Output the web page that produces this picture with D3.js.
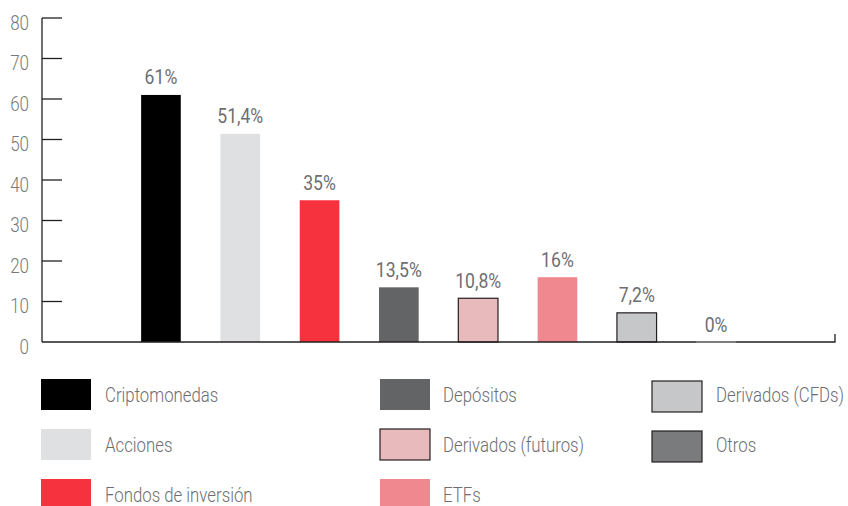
<!DOCTYPE html>
<html>
<head>
<meta charset="utf-8">
<script src="https://cdn.jsdelivr.net/npm/d3@7"></script>
<style>
  html, body { margin: 0; padding: 0; background: #fff; }
  svg text { font-family: "Roboto", "Liberation Sans", sans-serif; fill: #6d6e71; }
  svg text.light { font-weight: 300; }
</style>
</head>
<body>
<svg id="chart" width="848" height="506"></svg>
<script>
// Share of investors by product type (%)
const categories = ["Criptomonedas", "Acciones", "Fondos de inversión", "Depósitos",
                    "Derivados (futuros)", "ETFs", "Derivados (CFDs)", "Otros"];
const values = [61, 51.4, 35, 13.5, 10.8, 16, 7.2, 0];
const valueLabels = ["61%", "51,4%", "35%", "13,5%", "10,8%", "16%", "7,2%", "0%"];
const colors = ["#000000", "#dfe0e2", "#f7323f", "#636466", "#e9babb", "#f08890", "#c6c7c8", "#7a7b7d"];
const outlined = [false, false, false, false, true, false, true, true];
const yTicks = [0, 10, 20, 30, 40, 50, 60, 70, 80];
// legend order: column by column
const legendCols = [[0, 1, 2], [3, 4, 5], [6, 7]];

const svg = d3.select("#chart");

// place a text at (x, y) with a horizontal squeeze for a condensed look
function place(sel, fx, fy, k) {
  return sel.attr("transform", (d, i) => `translate(${fx(d, i)},${fy(d, i)}) scale(${k},1)`);
}

const x = d3.scaleBand()
  .domain(categories)
  .range([42, 835])
  .paddingInner(0.5)
  .paddingOuter(1.25);

const y = d3.scaleLinear().domain([0, 80]).range([342, 18]);

// y axis: vertical line with ticks pointing right
const yAxis = svg.append("g");
yAxis.append("line")
  .attr("x1", 42).attr("x2", 42)
  .attr("y1", y(80)).attr("y2", y(0))
  .attr("stroke", "#231f20").attr("stroke-width", 1.3);
yAxis.selectAll("line.tick").data(yTicks.filter(d => d > 0)).join("line")
  .attr("class", "tick")
  .attr("x1", 42).attr("x2", 62)
  .attr("y1", d => y(d)).attr("y2", d => y(d))
  .attr("stroke", "#231f20").attr("stroke-width", 1.3);
place(yAxis.selectAll("text").data(yTicks).join("text").attr("class", "light"),
      () => 29, d => y(d) + 11.5, 0.85)
  .attr("text-anchor", "end")
  .attr("font-size", 20)
  .style("fill", "#77787a")
  .text(d => d);

// bars
svg.selectAll("rect.bar").data(categories).join("rect")
  .attr("class", "bar")
  .attr("x", d => x(d))
  .attr("width", x.bandwidth())
  .attr("y", (d, i) => y(values[i]))
  .attr("height", (d, i) => y(0) - y(values[i]))
  .attr("fill", (d, i) => colors[i])
  .attr("stroke", (d, i) => outlined[i] ? "#231f20" : "none")
  .attr("stroke-width", 1.2);

// baseline with end tick
svg.append("path")
  .attr("d", `M42,${y(0)}H835V${y(0) - 8}`)
  .attr("fill", "none")
  .attr("stroke", "#231f20").attr("stroke-width", 1.3);

// zero-value bar shows only as a gray segment on the baseline
svg.selectAll("line.zero").data(categories.filter((d, i) => values[i] === 0)).join("line")
  .attr("class", "zero")
  .attr("x1", d => x(d)).attr("x2", d => x(d) + x.bandwidth())
  .attr("y1", y(0)).attr("y2", y(0))
  .attr("stroke", "#8a8b8d").attr("stroke-width", 1.5);

// value labels
place(svg.selectAll("text.val").data(categories).join("text").attr("class", "val"),
      d => x(d) + x.bandwidth() / 2, (d, i) => y(values[i]) - 10.5, 0.88)
  .attr("text-anchor", "middle")
  .attr("font-size", 20)
  .text((d, i) => valueLabels[i]);

// legend
const colX = [41, 380, 652];
const colTextX = [105, 443, 716];
const rowY = [378, 428, 478];
legendCols.forEach((col, c) => {
  col.forEach((idx, r) => {
    const g = svg.append("g");
    g.append("rect")
      .attr("x", colX[c]).attr("y", rowY[r] + (c === 2 ? 3 : 1))
      .attr("width", 50).attr("height", 31)
      .attr("fill", colors[idx])
      .attr("stroke", outlined[idx] ? "#231f20" : "none")
      .attr("stroke-width", 1.2);
    g.append("text")
      .attr("class", "light")
      .attr("transform", `translate(${colTextX[c]},${rowY[r] + 24}) scale(0.84,1)`)
      .attr("font-size", 20)
      .text(categories[idx]);
  });
});
</script>
</body>
</html>
